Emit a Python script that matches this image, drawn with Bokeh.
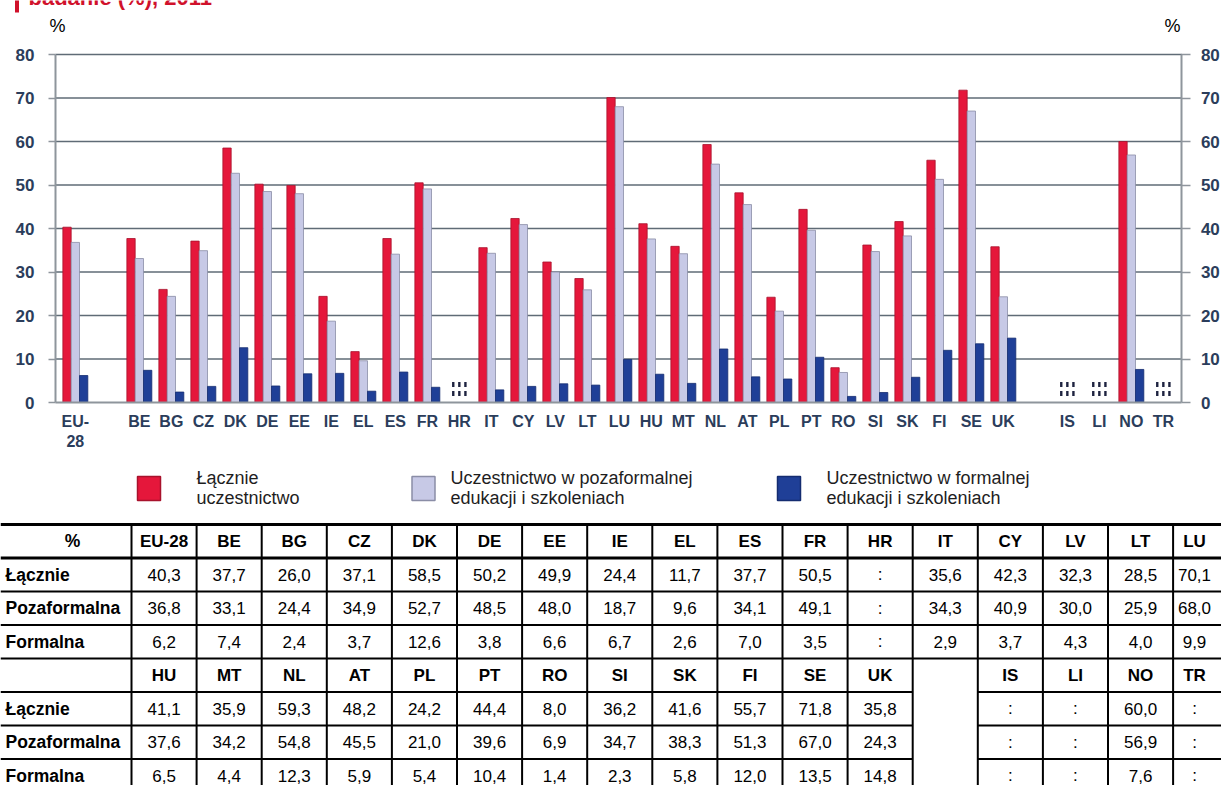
from bokeh.plotting import figure
from bokeh.models import Range1d, LinearAxis, FixedTicker, Label, ColumnDataSource
from bokeh.layouts import column
from bokeh.embed import file_html
from bokeh.resources import INLINE
from bokeh.core.properties import value
from bokeh.transform import dodge

# ---------------- data ----------------
countries = ["EU-28", "BE", "BG", "CZ", "DK", "DE", "EE", "IE", "EL", "ES", "FR",
             "HR", "IT", "CY", "LV", "LT", "LU", "HU", "MT", "NL", "AT", "PL",
             "PT", "RO", "SI", "SK", "FI", "SE", "UK", "IS", "LI", "NO", "TR"]
axis_labels = ["EU-\n28"] + countries[1:]
total = [40.3, 37.7, 26.0, 37.1, 58.5, 50.2, 49.9, 24.4, 11.7, 37.7, 50.5,
         None, 35.6, 42.3, 32.3, 28.5, 70.1, 41.1, 35.9, 59.3, 48.2, 24.2,
         44.4, 8.0, 36.2, 41.6, 55.7, 71.8, 35.8, None, None, 60.0, None]
nonformal = [36.8, 33.1, 24.4, 34.9, 52.7, 48.5, 48.0, 18.7, 9.6, 34.1, 49.1,
             None, 34.3, 40.9, 30.0, 25.9, 68.0, 37.6, 34.2, 54.8, 45.5, 21.0,
             39.6, 6.9, 34.7, 38.3, 51.3, 67.0, 24.3, None, None, 56.9, None]
formal = [6.2, 7.4, 2.4, 3.7, 12.6, 3.8, 6.6, 6.7, 2.6, 7.0, 3.5,
          None, 2.9, 3.7, 4.3, 4.0, 9.9, 6.5, 4.4, 12.3, 5.9, 5.4,
          10.4, 1.4, 2.3, 5.8, 12.0, 13.5, 14.8, None, None, 7.6, None]
series_names = ["Łącznie\nuczestnictwo",
                "Uczestnictwo w pozaformalnej\nedukacji i szkoleniach",
                "Uczestnictwo w formalnej\nedukacji i szkoleniach"]
row_names = ["Łącznie", "Pozaformalna", "Formalna"]
title_tail = "badanie (%), 2011"
y_ticks = [0, 10, 20, 30, 40, 50, 60, 70, 80]

# ---------------- styles ----------------
RED, RED_L = "#E5173B", "#A8122C"
LAV, LAV_L = "#C7C9E6", "#8A8DA6"
BLU, BLU_L = "#1F3F97", "#142C70"
AX_COL = "#2B3D5B"
GRID = "#5F6B76"
AXLINE = "#8E959C"
FONT = "Liberation Sans"

W = 1221
H1 = 460
H2 = 785 - H1

# slot positions: gap after EU-28 and after UK
slots = [i + (1 if i >= 1 else 0) + (1 if i >= 29 else 0) for i in range(len(countries))]
X0, X1 = -0.62, 34.58          # plot area in slot units
PXU = 32.0                     # px per slot
PYU = 4.35                     # px per percent
ZERO_PX = 402.0
XS = X0 - 55.0 / PXU

def fx(px):
    return XS + px / PXU

def fy(py):
    return (ZERO_PX - py) / PYU

p = figure(width=W, height=H1, x_range=Range1d(fx(0), fx(W)), y_range=Range1d(fy(H1), fy(0)),
           output_backend="svg", toolbar_location=None,
           min_border=0, min_border_left=0, min_border_right=0,
           min_border_top=0, min_border_bottom=0)
p.outline_line_color = None
p.background_fill_color = "white"
p.xgrid.visible = False
p.ygrid.visible = False

# grid lines (within the plot area)
gt = [t for t in y_ticks if t > 0]
p.segment(x0=[X0] * len(gt), x1=[X1] * len(gt), y0=gt, y1=gt, line_color=GRID, line_width=1.3)

def present(vals):
    xs = [s for s, v in zip(slots, vals) if v is not None]
    ys = [v for v in vals if v is not None]
    return ColumnDataSource(dict(x=xs, top=ys))

bw = 0.26
p.vbar(x=dodge("x", -bw, range=p.x_range), top="top", width=bw, bottom=0,
       source=present(total), fill_color=RED, line_color=RED_L, line_width=0.8)
p.vbar(x=dodge("x", 0, range=p.x_range), top="top", width=bw, bottom=0,
       source=present(nonformal), fill_color=LAV, line_color=LAV_L, line_width=0.8)
p.vbar(x=dodge("x", bw, range=p.x_range), top="top", width=bw, bottom=0,
       source=present(formal), fill_color=BLU, line_color=BLU_L, line_width=0.8)

# missing-data markers (":" pattern)
miss_x = [s for s, v in zip(slots, total) if v is None]
mx, my = [], []
for s in miss_x:
    for dx in (-0.19, 0.0, 0.19):
        for yy in (fy(384), fy(393)):
            mx.append(s + dx); my.append(yy)
p.rect(x=mx, y=my, width=2.4, height=5, width_units="screen", height_units="screen",
       fill_color="#1E2340", line_color=None)

yt = FixedTicker(ticks=y_ticks)

def style_axis(ax, tick_out, standoff):
    ax.axis_line_color = AXLINE
    ax.axis_line_width = 2
    ax.major_tick_out = tick_out
    ax.major_tick_in = 0
    ax.minor_tick_out = 0
    ax.minor_tick_in = 0
    ax.major_tick_line_color = AXLINE
    ax.major_tick_line_width = 1.5
    ax.major_label_standoff = standoff
    ax.major_label_text_font = FONT
    ax.major_label_text_font_style = "bold"
    ax.major_label_text_font_size = "17px"
    ax.major_label_text_color = AX_COL

la = p.yaxis[0]
la.ticker = yt
la.fixed_location = X0
la.bounds = (0, 80)
style_axis(la, 7, 14)

ra = LinearAxis(ticker=yt, fixed_location=X1, bounds=(0, 80))
style_axis(ra, 9, 10)
p.add_layout(ra, "right")

xa = p.xaxis[0]
xa.ticker = FixedTicker(ticks=slots)
xa.major_label_overrides = {s: lab for s, lab in zip(slots, axis_labels)}
xa.fixed_location = 0
xa.bounds = (X0, X1)
style_axis(xa, 0, 10)
xa.major_label_text_font_size = "16px"

for px in [57, 1172]:
    p.add_layout(Label(x=fx(px), y=fy(25), text="%", text_align="center", text_baseline="middle",
                       text_font=FONT, text_font_size="18px", text_color="black"))

# title remnant at the top edge (cut off, as in the source)
p.quad(left=[fx(14.5)], right=[fx(18.5)], top=[fy(-2)], bottom=[fy(12)],
       fill_color="#D0112B", line_color=None)
p.text(x=[fx(28)], y=[fy(-3)], text=[title_tail], text_align="left", text_baseline="alphabetic",
       text_font=value(FONT), text_font_style="bold", text_font_size="22px", text_color="#D0112B")

# ---------------- legend + table ----------------
q = figure(width=W, height=H2, x_range=Range1d(0, W), y_range=Range1d(H2, 0),
           output_backend="svg", toolbar_location=None,
           x_axis_location=None, y_axis_location=None,
           min_border=0, min_border_left=0, min_border_right=0,
           min_border_top=0, min_border_bottom=0)
q.outline_line_color = None
q.xgrid.visible = False
q.ygrid.visible = False

OY = H1
sq_x = [148.5, 423, 788.5]
txt_x = [196, 450, 826]
cols = [(RED, RED_L), (LAV, LAV_L), (BLU, BLU_L)]
q.rect(x=sq_x, y=[488 - OY] * 3, width=23, height=24,
       fill_color=[c[0] for c in cols], line_color=[c[1] for c in cols], line_width=1.5)
for tx, name in zip(txt_x, series_names):
    l1, l2 = name.split("\n")
    q.text(x=[tx, tx], y=[477 - OY, 497 - OY], text=[l1, l2],
           text_align="left", text_baseline="middle", text_font=value(FONT),
           text_font_size="18px", text_color="#1E1E1E")

# table geometry (page coords)
top = 524.0
rh = 33.5
c0 = 131.0
cw = 65.1
ncol = 17
rows_y = [top + rh * i for i in range(9)]

def colc(k):
    if k == 16:
        return 1194
    return c0 + cw * (k + 0.5)

def fmt(v):
    return ":" if v is None else ("%.1f" % v).replace(".", ",")

block1 = list(range(0, 17))
block2 = list(range(17, 29)) + [None] + list(range(29, 33))

hx, hy, ht, vx, vy, vt = [], [], [], [], [], []
lx, ly, lt = [], [], []
for b, block in enumerate([block1, block2]):
    base = rows_y[4 * b]
    for k, idx in enumerate(block):
        if idx is None:
            continue
        hx.append(colc(k)); hy.append(base + rh / 2 - OY); ht.append(countries[idx])
        for r, ser in enumerate([total, nonformal, formal]):
            vx.append(colc(k)); vy.append(base + rh * (r + 1.5) - OY); vt.append(fmt(ser[idx]))
    for r, nm in enumerate(row_names):
        lx.append(5); ly.append(base + rh * (r + 1.5) - OY); lt.append(nm)

q.text(x=lx, y=ly, text=lt, text_align="left", text_baseline="middle",
       text_font=value(FONT), text_font_style="bold", text_font_size="17.5px", text_color="black")
q.text(x=[72], y=[rows_y[0] + rh / 2 - OY], text=["%"], text_align="center",
       text_baseline="middle", text_font=value(FONT), text_font_style="bold",
       text_font_size="17.5px", text_color="black")
q.text(x=hx, y=hy, text=ht, text_align="center", text_baseline="middle",
       text_font=value(FONT), text_font_style="bold", text_font_size="17px", text_color="black")
q.text(x=vx, y=vy, text=vt, text_align="center", text_baseline="middle",
       text_font=value(FONT), text_font_size="17px", text_color="black")

# table lines
gap_l = c0 + cw * 12
gap_r = c0 + cw * 13
sx0, sy0, sx1, sy1, sw = [], [], [], [], []
for i, yy in enumerate(rows_y[:8]):
    w = 3 if i in (0, 1) else 2
    spans = [(0, gap_l), (gap_r, W)] if i >= 5 else [(0, W)]
    for a, bnd in spans:
        sx0.append(a); sx1.append(bnd); sy0.append(yy - OY); sy1.append(yy - OY); sw.append(w)
for k in range(ncol):
    xx = c0 + cw * k
    sx0.append(xx); sx1.append(xx); sy0.append(top - OY); sy1.append(H2 + 5); sw.append(2)
q.segment(x0=sx0, y0=sy0, x1=sx1, y1=sy1, line_color="black", line_width=sw)

layout = column(p, q, spacing=0)
open("out.html", "w").write(file_html(layout, INLINE))
